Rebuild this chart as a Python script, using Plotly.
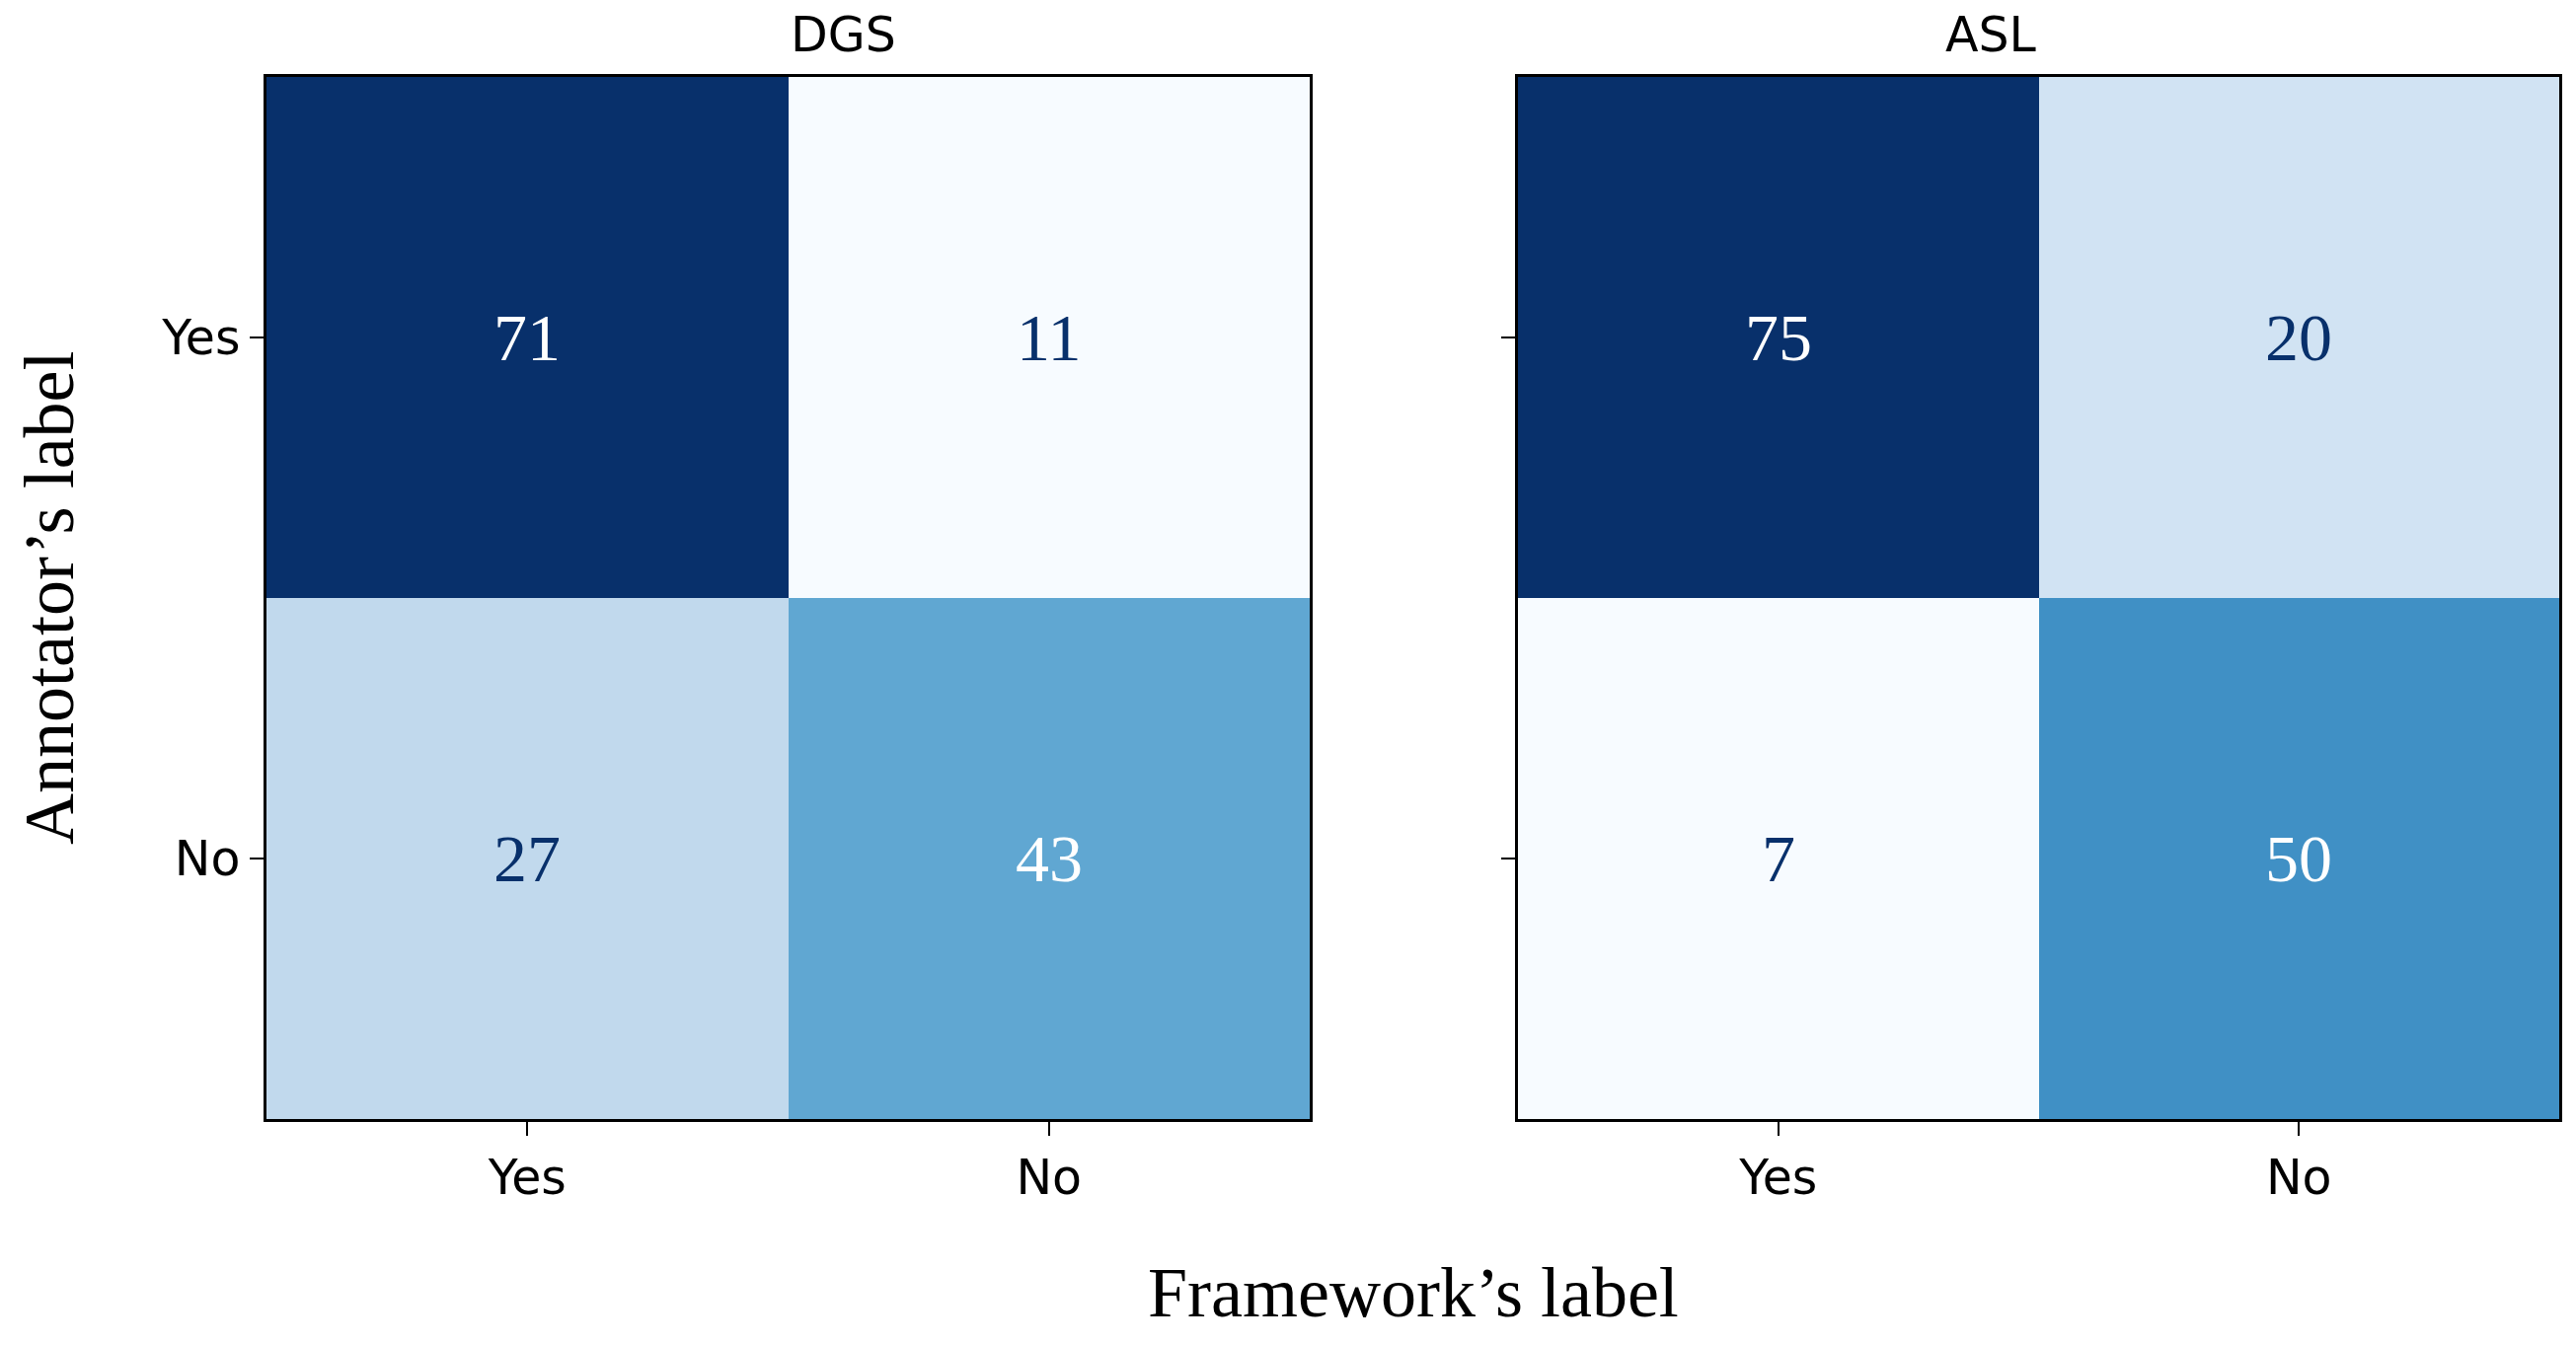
import plotly.graph_objects as go

# dados das matrizes de confusão
labels = ['Yes', 'No']
titulos = ['DGS', 'ASL']
dgs_valores = [[71, 11], [27, 43]]
asl_valores = [[75, 20], [7, 50]]

# escala "Blues" do matplotlib
blues = ['#f7fbff', '#deebf7', '#c6dbef', '#9ecae1', '#6baed6',
         '#4292c6', '#2171b5', '#08519c', '#08306b']
escala = [[i / (len(blues) - 1), c] for i, c in enumerate(blues)]

W, H = 2610, 1363
OFF = 8  # margem padrão do <body> na página


def px_x(x):
    return (x - OFF) / W


def px_y(y):
    return 1 - (y - OFF) / H


dominios_x = [(px_x(270), px_x(1327)), (px_x(1538), px_x(2593))]
dominio_y = (px_y(1134), px_y(78))

fig = go.Figure()
anotacoes = []

for i, (titulo, z) in enumerate(zip(titulos, [dgs_valores, asl_valores])):
    sufixo = '' if i == 0 else str(i + 1)
    fig.add_trace(go.Heatmap(
        z=z, x=labels, y=labels,
        colorscale=escala, showscale=False, hoverinfo='skip',
        xaxis='x' + sufixo, yaxis='y' + sufixo
    ))
    vmin = min(min(r) for r in z)
    vmax = max(max(r) for r in z)
    limiar = (vmin + vmax) / 2
    for r, lin in enumerate(labels):
        for c, col in enumerate(labels):
            v = z[r][c]
            anotacoes.append(dict(
                x=col, y=lin, xref='x' + sufixo, yref='y' + sufixo,
                text=str(v), showarrow=False,
                font=dict(family='Liberation Serif', size=68,
                          color='#ffffff' if v > limiar else '#08306b')
            ))
    anotacoes.append(dict(
        x=sum(dominios_x[i]) / 2, y=px_y(35), xref='paper', yref='paper',
        text=titulo, showarrow=False, yanchor='middle',
        font=dict(family='DejaVu Sans', size=49, color='black')
    ))

eixo = dict(showline=True, linecolor='black', linewidth=2.5, mirror=True,
            ticks='outside', ticklen=14, tickwidth=2, tickcolor='black',
            showgrid=False, zeroline=False,
            tickfont=dict(family='DejaVu Sans', size=49, color='black'))

fig.update_layout(
    width=W, height=H,
    margin=dict(l=0, r=0, t=0, b=0),
    plot_bgcolor='white', paper_bgcolor='white',
    xaxis=dict(eixo, domain=dominios_x[0], anchor='y'),
    yaxis=dict(eixo, domain=dominio_y, anchor='x', autorange='reversed'),
    xaxis2=dict(eixo, domain=dominios_x[1], anchor='y2'),
    yaxis2=dict(eixo, domain=dominio_y, anchor='x2', autorange='reversed',
                showticklabels=False),
    annotations=anotacoes + [
        dict(x=px_x((270 + 2593) / 2), y=px_y(1310), xref='paper', yref='paper',
             text="Framework’s label", showarrow=False, yanchor='middle',
             font=dict(family='Liberation Serif', size=72, color='black')),
        dict(x=px_x(50), y=px_y(606), xref='paper', yref='paper',
             text="Annotator’s label", showarrow=False, textangle=-90,
             xanchor='center', yanchor='middle',
             font=dict(family='Liberation Serif', size=72, color='black')),
    ]
)

fig.write_html('out.html')
